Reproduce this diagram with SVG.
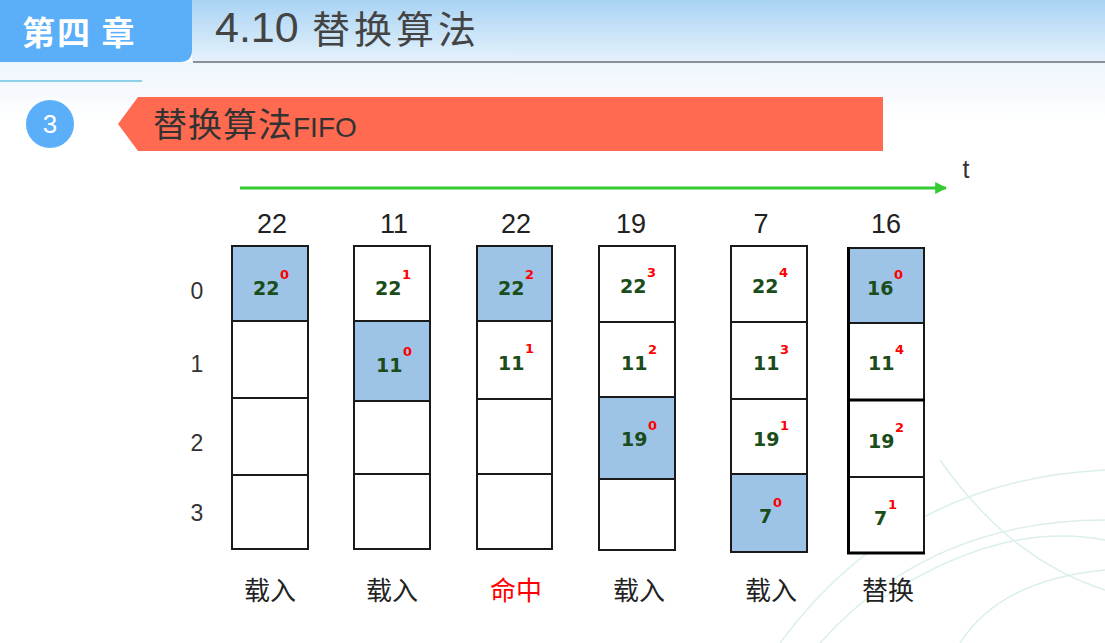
<svg xmlns="http://www.w3.org/2000/svg" width="1105" height="643" viewBox="0 0 1105 643">
<defs>
<linearGradient id="hdr" x1="0" y1="0" x2="0" y2="1">
<stop offset="0" stop-color="#A9D3F4"/>
<stop offset="1" stop-color="#E6F2FB"/>
</linearGradient>
<linearGradient id="bg" x1="0" y1="0" x2="0" y2="1">
<stop offset="0" stop-color="#EEF5FC"/>
<stop offset="1" stop-color="#FFFFFF"/>
</linearGradient>
<marker id="arr" viewBox="0 0 10 10" refX="9" refY="5" markerWidth="4" markerHeight="4" orient="auto" markerUnits="strokeWidth">
<path d="M0,0 L10,5 L0,10 z" fill="#33CC33"/>
</marker>
<style>
.cell{stroke:#1a1a1a;stroke-width:2;fill:#FFFFFF}
.hit{fill:#9DC3E6}
.num{font-family:"DejaVu Sans","Liberation Sans",sans-serif;font-weight:bold;font-size:19px;fill:#1B4D1B}
.sup{font-family:"DejaVu Sans","Liberation Sans",sans-serif;font-weight:bold;font-size:13px;fill:#FF0000}
.top{font-family:"Liberation Sans","Noto Sans",sans-serif;font-size:27px;fill:#222222;text-anchor:middle}
.row{font-family:"Liberation Sans","Noto Sans",sans-serif;font-size:23px;fill:#333333;text-anchor:middle}
.bot{font-family:"Noto Sans CJK SC","Noto Sans",sans-serif;font-size:26px;fill:#222222;text-anchor:middle}
</style>
</defs>
<rect x="0" y="0" width="1105" height="643" fill="#FFFFFF"/>
<rect x="0" y="62" width="1105" height="60" fill="url(#bg)"/>
<!-- watermark -->
<g fill="none" stroke="#D9EEEC" stroke-width="1.5" opacity="0.9">
<path d="M780,643 Q900,480 1105,470"/>
<path d="M820,643 Q930,520 1105,520"/>
<path d="M940,460 Q1010,560 1105,590"/>
<path d="M880,600 Q1000,520 1105,540"/>
<path d="M960,643 Q1000,580 1105,570"/>
</g>
<g id="header">
<rect x="192" y="0" width="913" height="62" fill="url(#hdr)"/>
<path d="M0,0 H192 V50 Q192,62 180,62 H0 Z" fill="#5AAFF8"/>
<line x1="193" y1="62" x2="1105" y2="62" stroke="#8A9096" stroke-width="2"/>
<line x1="0" y1="81" x2="142" y2="81" stroke="#8DD0E8" stroke-width="2"/>
<text x="22" y="45" font-family="Noto Sans CJK SC,sans-serif" font-weight="bold" font-size="33" letter-spacing="2" fill="#FFFFFF">第四 章</text>
<text x="215" y="42" font-family="Liberation Sans,sans-serif" font-size="43" fill="#444444">4.10</text>
<text x="312" y="43" font-family="Noto Sans CJK SC,sans-serif" font-size="38" letter-spacing="4" fill="#444444">替换算法</text>
</g>
<g id="section">
<circle cx="50" cy="124" r="24" fill="#5AAFF8"/>
<text x="50" y="133" font-family="Liberation Sans,sans-serif" font-size="26" fill="#FFFFFF" text-anchor="middle">3</text>
<path d="M118,124 L138,97 H883 V151 H138 Z" fill="#FF6A50"/>
<text x="153" y="137" font-family="Noto Sans CJK SC,sans-serif" fill="#333333"><tspan font-size="34" letter-spacing="1">替换算法</tspan><tspan font-family="Liberation Sans,sans-serif" font-size="28">FIFO</tspan></text>
</g>
<g id="connectors">
<line x1="240" y1="188" x2="946" y2="188" stroke="#33CC33" stroke-width="3" marker-end="url(#arr)"/>
</g>
<text x="966" y="178" font-family="Liberation Sans,sans-serif" font-size="25" fill="#333333" text-anchor="middle">t</text>
<g id="row-labels">
<text class="row" x="197" y="299">0</text>
<text class="row" x="197" y="372">1</text>
<text class="row" x="197" y="451">2</text>
<text class="row" x="197" y="521">3</text>
</g>
<g id="col1">
<text class="top" x="272" y="233">22</text>
<rect class="cell hit" x="232" y="246" width="76" height="75"/>
<rect class="cell" x="232" y="321" width="76" height="77"/>
<rect class="cell" x="232" y="398" width="76" height="77"/>
<rect class="cell" x="232" y="475" width="76" height="74"/>
<text class="num" x="253" y="295">22</text><text class="sup" x="280" y="279">0</text>
<text class="bot" x="270" y="600">载入</text>
</g>
<g id="col2">
<text class="top" x="394" y="233">11</text>
<rect class="cell" x="354" y="246" width="76" height="75"/>
<rect class="cell hit" x="354" y="321" width="76" height="80"/>
<rect class="cell" x="354" y="401" width="76" height="73"/>
<rect class="cell" x="354" y="474" width="76" height="75"/>
<text class="num" x="375" y="295">22</text><text class="sup" x="402" y="279">1</text>
<text class="num" x="376" y="372">11</text><text class="sup" x="403" y="356">0</text>
<text class="bot" x="392" y="600">载入</text>
</g>
<g id="col3">
<text class="top" x="516" y="233">22</text>
<rect class="cell hit" x="477" y="246" width="75" height="75"/>
<rect class="cell" x="477" y="321" width="75" height="78"/>
<rect class="cell" x="477" y="399" width="75" height="75"/>
<rect class="cell" x="477" y="474" width="75" height="75"/>
<text class="num" x="498" y="295">22</text><text class="sup" x="525" y="279">2</text>
<text class="num" x="498" y="370">11</text><text class="sup" x="525" y="353">1</text>
<text class="bot" x="516" y="600" style="fill:#FF0000">命中</text>
</g>
<g id="col4">
<text class="top" x="631" y="233">19</text>
<rect class="cell" x="599" y="246" width="76" height="76"/>
<rect class="cell" x="599" y="322" width="76" height="75"/>
<rect class="cell hit" x="599" y="397" width="76" height="82"/>
<rect class="cell" x="599" y="479" width="76" height="71"/>
<text class="num" x="620" y="293">22</text><text class="sup" x="647" y="277">3</text>
<text class="num" x="621" y="370">11</text><text class="sup" x="648" y="354">2</text>
<text class="num" x="621" y="446">19</text><text class="sup" x="648" y="430">0</text>
<text class="bot" x="639" y="600">载入</text>
</g>
<g id="col5">
<text class="top" x="761" y="233">7</text>
<rect class="cell" x="731" y="246" width="76" height="76"/>
<rect class="cell" x="731" y="322" width="76" height="77"/>
<rect class="cell" x="731" y="399" width="76" height="75"/>
<rect class="cell hit" x="731" y="474" width="76" height="78"/>
<text class="num" x="752" y="293">22</text><text class="sup" x="779" y="277">4</text>
<text class="num" x="753" y="370">11</text><text class="sup" x="780" y="354">3</text>
<text class="num" x="753" y="446">19</text><text class="sup" x="780" y="430">1</text>
<text class="num" x="759" y="523">7</text><text class="sup" x="773" y="507">0</text>
<text class="bot" x="771" y="600">载入</text>
</g>
<g id="col6">
<text class="top" x="886" y="233">16</text>
<rect class="cell hit" x="848" y="248" width="76" height="75"/>
<rect class="cell" x="848" y="323" width="76" height="77"/>
<rect class="cell" x="848" y="400" width="76" height="77"/>
<rect class="cell" x="848" y="477" width="76" height="76"/>
<line x1="848.5" y1="247" x2="848.5" y2="554" stroke="#000000" stroke-width="3"/>
<line x1="847" y1="553" x2="925" y2="553" stroke="#000000" stroke-width="3"/>
<line x1="847" y1="400" x2="925" y2="400" stroke="#000000" stroke-width="3"/>
<text class="num" x="867" y="295">16</text><text class="sup" x="894" y="279">0</text>
<text class="num" x="868" y="370">11</text><text class="sup" x="895" y="354">4</text>
<text class="num" x="868" y="448">19</text><text class="sup" x="895" y="432">2</text>
<text class="num" x="874" y="525">7</text><text class="sup" x="888" y="509">1</text>
<text class="bot" x="888" y="600">替换</text>
</g>
</svg>
